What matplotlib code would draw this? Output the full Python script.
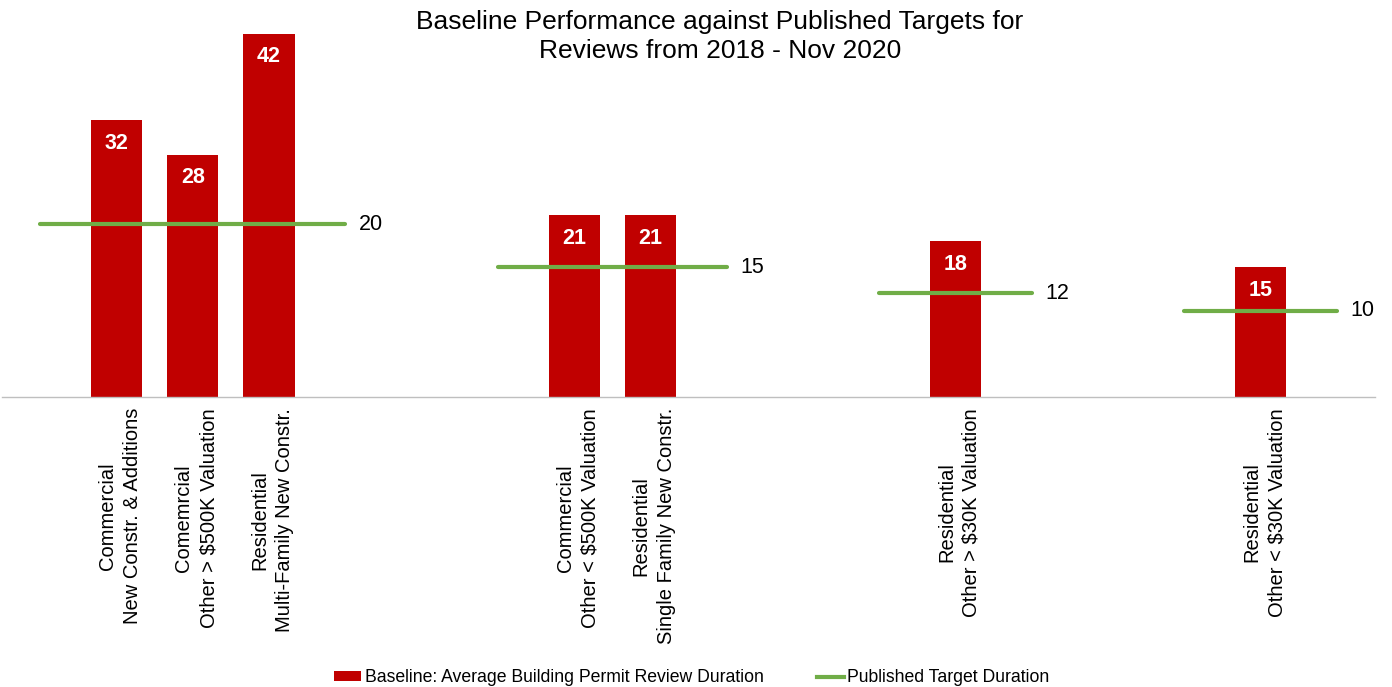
import numpy as np
import matplotlib.pyplot as plt
import matplotlib.transforms as mtransforms
from matplotlib.patches import Patch
from matplotlib.lines import Line2D

plt.rcParams['font.family'] = ['Liberation Sans', 'DejaVu Sans']

# categories incl. blank slots used as spacers
categories = ["",
              "Commercial\nNew Constr. & Additions",
              "Comemrcial\nOther > $500K Valuation",
              "Residential\nMulti-Family New Constr.",
              "", "", "",
              "Commercial\nOther < $500K Valuation",
              "Residential\nSingle Family New Constr.",
              "", "", "",
              "Residential\nOther > $30K Valuation",
              "", "", "",
              "Residential\nOther < $30K Valuation",
              ""]
baseline = [np.nan, 32, 28, 42, np.nan, np.nan, np.nan, 21, 21,
            np.nan, np.nan, np.nan, 18, np.nan, np.nan, np.nan, 15, np.nan]
target = [20, 20, 20, 20, 20, np.nan, 15, 15, 15,
          15, np.nan, 12, 12, 12, np.nan, 10, 10, 10]

red = '#C00000'
green = '#70AD47'

fig = plt.figure(figsize=(13.92, 6.87), dpi=100)
ax = fig.add_axes([2 / 1392, 1 - 397 / 687, 1373 / 1392, 389 / 687])

x = np.arange(len(categories))
ax.bar(x, baseline, width=0.67, color=red, zorder=2)
ax.plot(x, target, color=green, linewidth=3, solid_capstyle='round', zorder=3)

# values inside bars
for xi, v in zip(x, baseline):
    if not np.isnan(v):
        ax.annotate(f"{v:.0f}", (xi, v), xytext=(0, -16.5), textcoords='offset points',
                    ha='center', va='center', color='white', fontsize=15.5,
                    fontweight='bold', zorder=4)

# target labels at the right end of each line segment
t = np.array(target)
for i in range(len(t)):
    if not np.isnan(t[i]) and (i == len(t) - 1 or np.isnan(t[i + 1])):
        ax.annotate(f"{t[i]:.0f}", (x[i], t[i]), xytext=(10, 0), textcoords='offset points',
                    ha='left', va='center', fontsize=15.5, color='black')

ax.set_xlim(-0.5, len(categories) - 0.5)
ax.set_ylim(0, 45)
ax.set_xticks(x)
ax.set_xticklabels(categories, rotation=90, ha='center', va='top',
                   multialignment='center', fontsize=14.5, linespacing=1.4)
ax.tick_params(axis='x', length=0, pad=8)
# nudge the rotated labels a little right so they sit centred under the bars
shift = mtransforms.ScaledTranslation(3.5 / 100, 0, fig.dpi_scale_trans)
for lbl in ax.get_xticklabels():
    lbl.set_transform(lbl.get_transform() + shift)
ax.set_yticks([])
for s in ['top', 'right', 'left']:
    ax.spines[s].set_visible(False)
ax.spines['bottom'].set_color('#BFBFBF')
ax.spines['bottom'].set_linewidth(1)

fig.text(0.517, 0.985, "Baseline Performance against Published Targets for\nReviews from 2018 - Nov 2020",
         ha='center', va='top', fontsize=19, linespacing=1.25)

handles = [Patch(facecolor=red, edgecolor='none'),
           Line2D([0], [0], color=green, linewidth=3)]
fig.legend(handles, ["Baseline: Average Building Permit Review Duration", "Published Target Duration"],
           loc='lower center', bbox_to_anchor=(0.497, -0.022), ncol=2, frameon=False,
           fontsize=12.7, handlelength=1.55, handleheight=0.45, handletextpad=0.2,
           columnspacing=3.0)

fig.savefig('out.png', dpi=100)
